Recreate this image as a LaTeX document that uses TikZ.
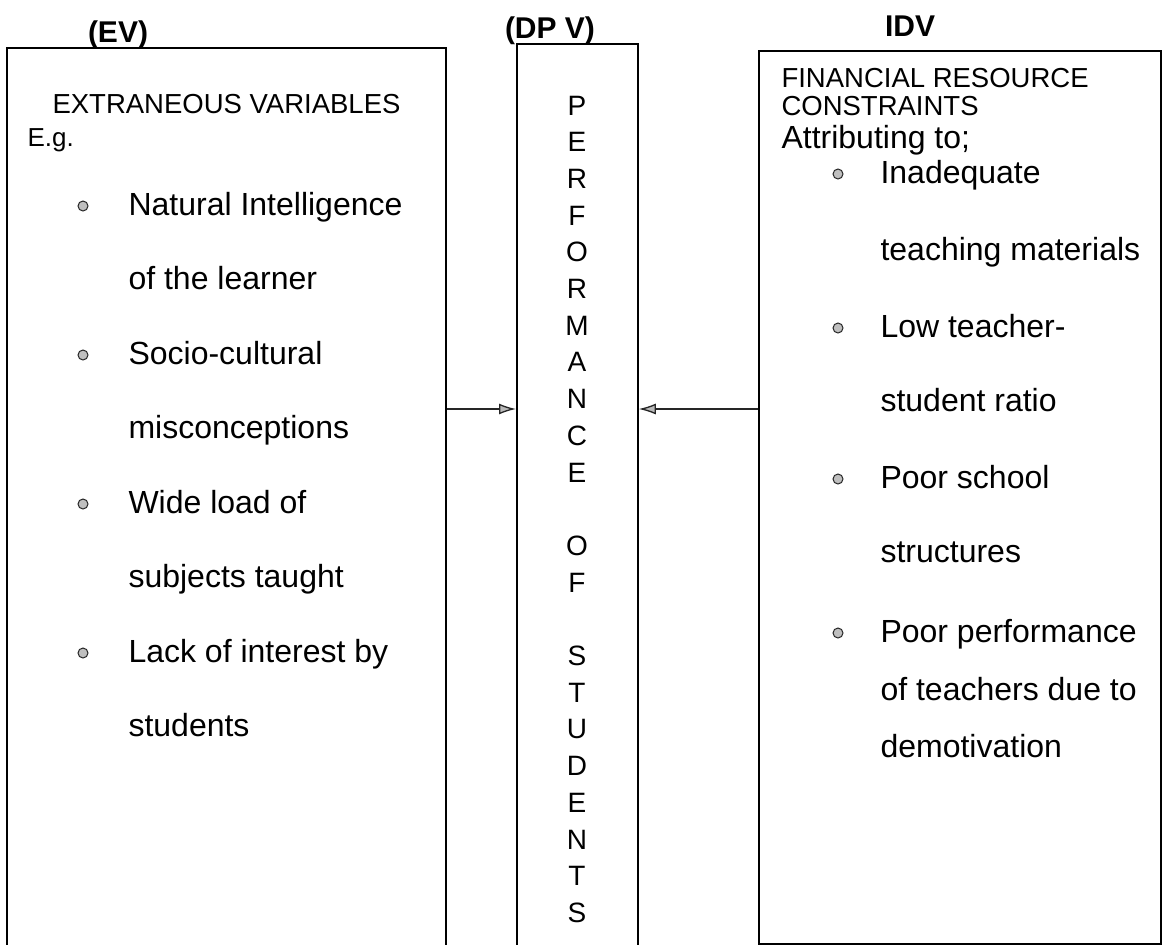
\documentclass[tikz,border=0pt]{standalone}
\usepackage{fontspec}
\setmainfont{Liberation Sans}
\usetikzlibrary{arrows.meta, positioning}

\newcommand{\fsz}[1]{\fontsize{#1}{#1}\selectfont}

\begin{document}
\begin{tikzpicture}[x=1pt, y=-1pt,
    box/.style={draw, line width=1.8pt, inner sep=0pt, anchor=north west},
    head/.style={anchor=base, font=\fsz{30}\bfseries},
    caps/.style={anchor=base west, font=\fsz{27.5}},
    txt/.style={anchor=base west, font=\fsz{32}},
    letter/.style={anchor=base, font=\fsz{28}},
    dot/.style={circle, inner sep=0pt, minimum size=10pt, fill=gray!50, draw=black!85, line width=1pt},
    feed/.style={line width=1.3pt, black!85, -{Latex[length=17pt, width=11pt, fill=gray!55]}}]
    \useasboundingbox (0,0) rectangle (1163,945);

    % the three columns
    \node[box, minimum width=439pt, minimum height=925pt] (ev) at (6,47) {};
    \node[box, minimum width=121pt, minimum height=902pt] (dpv) at (516,43) {};
    \node[box, minimum width=402pt, minimum height=893pt] (idv) at (758,50) {};

    \node[head] (evh) at (118,42) {(EV)};
    \node[head] (dpvh) at (550,38) {(DP V)};
    \node[head] (idvh) at (910,36) {IDV};

    % left column
    \node[caps] (evt) at (49,113) {EXTRANEOUS VARIABLES};
    \node[caps, font=\fsz{26}] (eg) at (24,146) {E.g.};
    \foreach \y/\t [count=\i] in {215/Natural Intelligence, 289/of the learner,
        364/Socio-cultural, 438/misconceptions, 513/Wide load of,
        587/subjects taught, 662/Lack of interest by, 736/students}
        \node[txt] (ev\i) at (125,\y) {\t};
    \foreach \y [count=\i] in {215,364,513,662}
        \node[dot] (evb\i) at (83,\y-9) {};

    % middle column, one letter a line
    \foreach \ch [count=\i from 0] in {P,E,R,F,O,R,M,A,N,C,E,,O,F,,S,T,U,D,E,N,T,S}
        \node[letter] (dl\i) at (577,115+36.7*\i) {\ch};

    % right column
    \node[caps] (idvt) at (778,87) {FINANCIAL RESOURCE};
    \node[caps] (idvt2) at (778,115) {CONSTRAINTS};
    \node[txt] (att) at (778,148) {Attributing to;};
    \foreach \y/\t [count=\i] in {183/Inadequate, 260/teaching materials,
        337/Low teacher-, 411/student ratio, 488/Poor school,
        562/structures, 642/Poor performance, 700/of teachers due to,
        757/demotivation}
        \node[txt] (idv\i) at (877,\y) {\t};
    \foreach \y [count=\i] in {183,337,488,642}
        \node[dot] (idvb\i) at (838,\y-9) {};

    % influences on performance
    \coordinate (lvl) at (0,409);
    \draw[feed] (ev.east |- lvl) -- (dpv.west |- lvl);
    \draw[feed] (idv.west |- lvl) -- (dpv.east |- lvl);
\end{tikzpicture}
\end{document}
